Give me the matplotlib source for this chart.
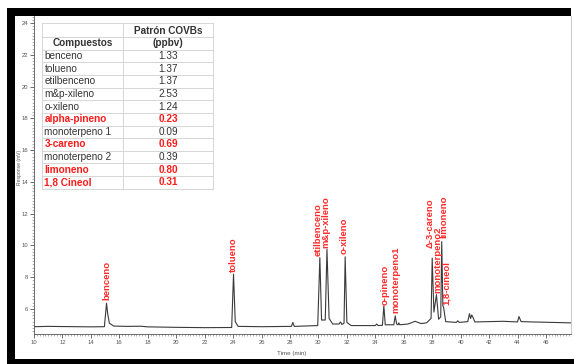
import matplotlib.pyplot as plt
import numpy as np
from matplotlib.lines import Line2D
from matplotlib.patches import Rectangle
from matplotlib.ticker import MultipleLocator

plt.rcParams['font.family'] = ['Liberation Sans', 'DejaVu Sans']

# trazo del cromatograma (tiempo en min, respuesta en mV)
t = [10.0, 11.0, 12.0, 13.0, 14.0, 14.95, 15.1, 15.18, 15.3, 15.6, 16.5, 17.5, 18.0,
     20.0, 22.0, 23.9, 24.03, 24.15, 24.35, 26.0, 28.1, 28.2, 28.3, 29.95,
     30.1, 30.22, 30.48, 30.6, 30.75, 31.0, 31.45, 31.55, 31.65, 31.8, 31.88,
     32.0, 32.3, 34.0, 34.1, 34.2, 34.5, 34.6, 34.7, 35.3, 35.4, 35.5, 35.6,
     35.65, 35.72, 36.3, 36.8, 37.2, 37.6, 37.92, 38.0, 38.12, 38.3, 38.45,
     38.6, 38.67, 38.75, 38.8, 38.95, 39.7, 39.8, 39.9, 40.5, 40.62, 40.7,
     40.78, 40.85, 41.0, 42.0, 43.0, 44.0, 44.1, 44.25, 45.0, 46.0, 47.8]
resp = [4.88, 4.9, 4.89, 4.88, 4.87, 4.88, 6.36, 5.7, 5.1, 4.92, 4.9, 4.91, 4.87,
        4.84, 4.82, 4.83, 8.19, 5.2, 4.9, 4.88, 4.9, 5.15, 4.9, 4.95,
        9.23, 5.3, 5.3, 9.75, 5.4, 5.05, 5.05, 5.18, 5.02, 5.1, 9.28,
        5.15, 4.95, 4.95, 5.05, 4.95, 4.97, 6.2, 5.0, 5.0, 5.56, 5.05, 5.0,
        5.12, 5.0, 5.05, 5.22, 5.08, 5.12, 5.4, 9.2, 5.8, 6.9, 5.35,
        5.5, 10.24, 6.2, 6.1, 5.2, 5.15, 5.25, 5.15, 5.2, 5.7, 5.4,
        5.62, 5.5, 5.18, 5.2, 5.22, 5.18, 5.52, 5.2, 5.18, 5.16, 5.12]

# etiquetas de picos: texto, tiempo, base del texto (mV)
pico_nombre = ["benceno", "tolueno", "etilbenceno", "m&p-xileno", "o-xileno",
               "o-pineno", "monoterpeno1", "Δ-3-careno", "monoterpeno2",
               "limoneno", "1,8-cineol"]
pico_t = [15.1, 24.04, 30.0, 30.55, 31.83, 34.66, 35.46, 37.87, 38.4, 38.83, 39.0]
pico_y = [6.57, 8.35, 9.34, 9.83, 9.47, 6.25, 5.73, 9.83, 7.0, 10.46, 6.25]

# tabla
compuestos = ["benceno", "tolueno", "etilbenceno", "m&p-xileno", "o-xileno",
              "alpha-pineno", "monoterpeno 1", "3-careno", "monoterpeno 2",
              "limoneno", "1,8 Cineol"]
ppbv = ["1.33", "1.37", "1.37", "2.53", "1.24", "0.23", "0.09", "0.69", "0.39",
        "0.80", "0.31"]
destacado = [False, False, False, False, False, True, False, True, False, True, True]

W, H = 574, 364
fig = plt.figure(figsize=(W / 100, H / 100), dpi=100)


def px(x, y):
    return x / W, 1 - y / H


ax = fig.add_axes([34 / W, 1 - 334 / H, (571 - 34) / W, (334 - 16) / H])
ax.plot(t, resp, color="#3a3a3a", lw=0.8)
ax.set_xlim(10, 47.76)
ax.set_ylim(4.42, 24.45)
ax.xaxis.set_major_locator(MultipleLocator(2))
ax.xaxis.set_minor_locator(MultipleLocator(0.2))
ax.yaxis.set_major_locator(MultipleLocator(2))
ax.yaxis.set_minor_locator(MultipleLocator(0.2))
ax.tick_params(which="major", length=3, width=0.6, labelsize=4.2, labelcolor="#555555",
               color="#555555", pad=1.5)
ax.tick_params(which="minor", length=1.6, width=0.4, color="#777777")
ax.spines["top"].set_visible(False)
ax.spines["right"].set_color("#cccccc")
for s in ["left", "bottom"]:
    ax.spines[s].set_color("#555555")
    ax.spines[s].set_linewidth(0.6)

for nombre, x, y in zip(pico_nombre, pico_t, pico_y):
    ax.text(x, y, nombre, rotation=90, ha="center", va="bottom", color="#ff2a2a",
            fontsize=6.8, weight="bold")

fig.text(*px(292, 353), "Time (min)", fontsize=4.5, color="#555555", ha="center", va="center")
fig.text(*px(20, 167), "Response (mV)", fontsize=3.6, color="#555555", rotation=90,
         ha="center", va="center")

# tabla dibujada a mano
x0, x1, x2 = 42.3, 122.7, 212.7
ytop, ymid, yhead = 23.3, 37.3, 49.7
rh = 12.64
ybot = yhead + rh * len(compuestos)
fig.add_artist(Rectangle(px(x0, ybot), (x2 - x0) / W, (ybot - ytop) / H,
                         transform=fig.transFigure, facecolor="white", edgecolor="none"))
lc = "#d6d6d6"
hl = [ytop, ymid, yhead] + [yhead + rh * (i + 1) for i in range(len(compuestos))]
for yy in hl:
    fig.add_artist(Line2D([x0 / W, x2 / W], [1 - yy / H] * 2, color=lc, lw=0.7))
for xx in [x0, x1, x2]:
    fig.add_artist(Line2D([xx / W] * 2, [1 - ytop / H, 1 - ybot / H], color=lc, lw=0.7))

tc = "#333333"
fig.text(*px(168, 30.5), "Patrón COVBs", fontsize=7.2, weight="bold", color=tc,
         ha="center", va="center")
fig.text(*px(168, 43.5), "(ppbv)", fontsize=7.2, weight="bold", color=tc,
         ha="center", va="center")
fig.text(*px(82.5, 43.5), "Compuestos", fontsize=7.2, weight="bold", color=tc,
         ha="center", va="center")
for i, (c, v, d) in enumerate(zip(compuestos, ppbv, destacado)):
    yc = yhead + rh * (i + 0.5)
    col = "#ff1a1a" if d else tc
    w = "bold" if d else "normal"
    fig.text(*px(44.5, yc), c, fontsize=7.2, color=col, weight=w, ha="left", va="center")
    fig.text(*px(168, yc), v, fontsize=7.2, color=col, weight=w, ha="center", va="center")

# marco negro de la captura
for (xa, ya, xb, yb) in [(7, 8, 571, 16), (7, 8, 15, 364), (7, 359, 574, 364)]:
    fig.add_artist(Rectangle(px(xa, yb), (xb - xa) / W, (yb - ya) / H,
                             transform=fig.transFigure, facecolor="black", edgecolor="none"))

fig.savefig("out.png", dpi=100)
